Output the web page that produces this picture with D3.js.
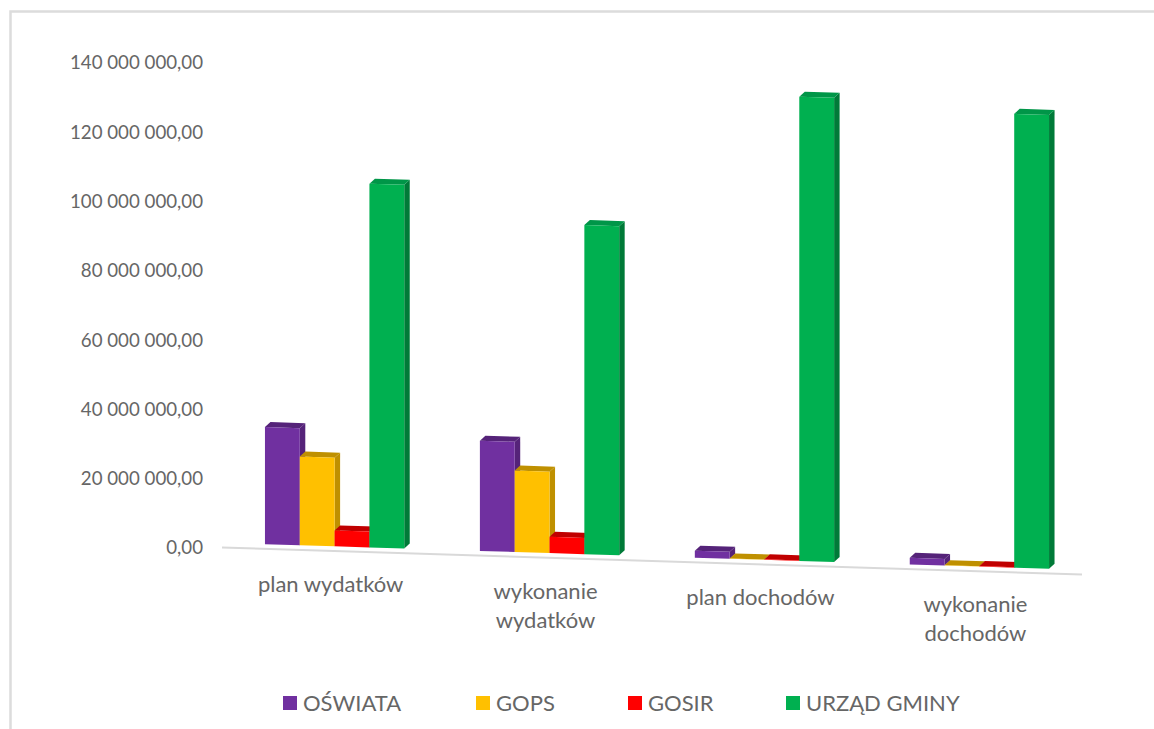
<!DOCTYPE html>
<html>
<head>
<meta charset="utf-8">
<script src="https://cdn.jsdelivr.net/npm/d3@7/dist/d3.min.js"></script>
<style>
  html, body { margin: 0; padding: 0; background: #fff; }
  svg { display: block; }
  text { font-family: Lato, "Open Sans", sans-serif; fill: #666; }
</style>
</head>
<body>
<div id="chart"></div>
<script>
// values
var categories = ["plan wydatków", "wykonanie wydatków", "plan dochodów", "wykonanie dochodów"]
var categoryLines = [["plan wydatków"], ["wykonanie", "wydatków"], ["plan dochodów"], ["wykonanie", "dochodów"]]
var seriesNames = ["OŚWIATA", "GOPS", "GOSIR", "URZĄD GMINY"]
var oswiata = [33800000, 31800000, 2000000, 1900000]
var gops = [25600000, 23500000, 100000, 100000]
var gosir = [4600000, 4700000, 150000, 150000]
var urzad = [105000000, 95000000, 134000000, 131000000]
var seriesValues = [oswiata, gops, gosir, urzad]
var tickValues = [0, 20000000, 40000000, 60000000, 80000000, 100000000, 120000000, 140000000]
var frontColours = ["#7030a0", "#ffc000", "#ff0000", "#00b050"]
var topColours = ["#552379", "#bf9000", "#c00000", "#009648"]
var sideColours = ["#552379", "#bf9000", "#c00000", "#007a38"]

var width = 1154, height = 729
var slope = 0.0314   // the floor of the chart leans downwards to the right
var depthX = 5.5, depthY = 5

var svg = d3.select("#chart").append("svg")
  .attr("width", width)
  .attr("height", height)

var y = d3.scaleLinear().domain([0, 140000000]).range([547, 62])
var x0 = d3.scaleBand().domain(categories).range([228, 1086]).paddingInner(0.352).paddingOuter(0.172)
var x1 = d3.scaleBand().domain(seriesNames).range([0, x0.bandwidth()])

function floorY(x) {
  return y(0) + 0.5 + slope * (x - 222)
}
function baseY(x) {
  return floorY(x) - 4.7
}

// frame round the chart
svg.append("path")
  .attr("d", d3.line()([[10.5, height], [10.5, 11.5], [width, 11.5]]))
  .attr("fill", "none")
  .attr("stroke", "#dcdcdc")
  .attr("stroke-width", 2.5)

// floor line
svg.append("line")
  .attr("x1", 222)
  .attr("x2", 1082)
  .attr("y1", floorY(222))
  .attr("y2", floorY(1082))
  .attr("stroke", "#d9d9d9")
  .attr("stroke-width", 2)

// value axis
var pl = d3.formatLocale({decimal: ",", thousands: " ", grouping: [3], currency: ["", ""]})
var yAxis = d3.axisLeft(y)
  .tickValues(tickValues)
  .tickFormat(pl.format(",.2f"))
  .tickSize(0)
  .tickPadding(0)

var axisG = svg.append("g")
  .attr("transform", "translate(203,1)")
  .call(yAxis)
axisG.select(".domain").remove()
axisG.selectAll("text")
  .style("font-family", "Lato, 'Open Sans', sans-serif")
  .style("font-size", "18.7px")

// bars, left to right so each one covers the side of the one before
var bars = []
categories.forEach(function(c, i) {
  seriesNames.forEach(function(s, j) {
    bars.push({cat: c, series: j, value: seriesValues[j][i], x: x0(c) + x1(s), w: x1.bandwidth()})
  })
})

var barG = svg.append("g").selectAll("g")
  .data(bars)
  .enter().append("g")

function corners(d) {
  var h = y(0) - y(d.value)
  return {
    xl: d.x,
    xr: d.x + d.w,
    bl: baseY(d.x),
    br: baseY(d.x + d.w),
    tl: baseY(d.x) - h,
    tr: baseY(d.x + d.w) - h
  }
}

barG.append("path")
  .attr("fill", function(d) { return sideColours[d.series] })
  .attr("d", function(d) {
    var c = corners(d)
    return d3.line()([[c.xr, c.br], [c.xr, c.tr], [c.xr + depthX, c.tr - depthY], [c.xr + depthX, c.br - depthY]]) + "Z"
  })

barG.append("path")
  .attr("fill", function(d) { return topColours[d.series] })
  .attr("d", function(d) {
    var c = corners(d)
    return d3.line()([[c.xl, c.tl], [c.xl + depthX, c.tl - depthY], [c.xr + depthX, c.tr - depthY], [c.xr, c.tr]]) + "Z"
  })

barG.append("path")
  .attr("fill", function(d) { return frontColours[d.series] })
  .attr("d", function(d) {
    var c = corners(d)
    return d3.line()([[c.xl, c.bl], [c.xl, c.tl], [c.xr, c.tr], [c.xr, c.br]]) + "Z"
  })

// category labels follow the floor but stay horizontal
var catLabels = svg.append("g").selectAll("text")
  .data(categories)
  .enter().append("text")
  .attr("text-anchor", "middle")
  .style("font-size", "22px")

catLabels.each(function(c, i) {
  var cx = x0(c) + x0.bandwidth() / 2 - 4
  var top = floorY(cx) + 41
  d3.select(this).selectAll("tspan")
    .data(categoryLines[i])
    .enter().append("tspan")
    .attr("x", cx)
    .attr("y", function(d, k) { return top + k * 29 })
    .text(function(d) { return d })
})

// legend
var legendX = [283, 476, 628, 786]
var legend = svg.append("g").selectAll("g")
  .data(seriesNames)
  .enter().append("g")
  .attr("transform", function(d, i) { return "translate(" + legendX[i] + ",696)" })

legend.append("rect")
  .attr("width", 14)
  .attr("height", 14)
  .attr("fill", function(d, i) { return frontColours[i] })

legend.append("text")
  .attr("x", 20)
  .attr("y", 15)
  .style("font-size", "22px")
  .text(function(d) { return d })
</script>
</body>
</html>
